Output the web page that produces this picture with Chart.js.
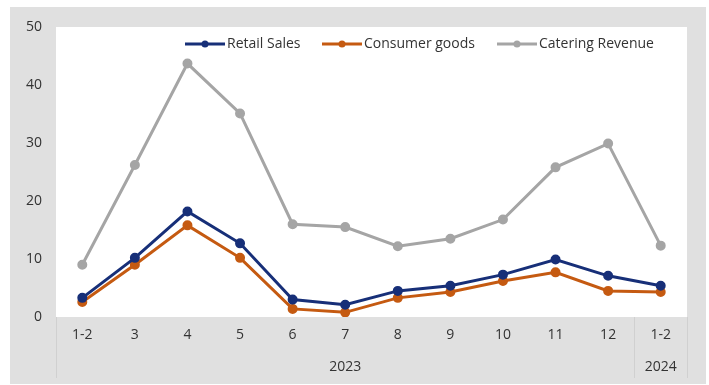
<!DOCTYPE html>
<html lang="en">
<head>
    <meta charset="UTF-8">
    <title>Retail Sales, Consumer goods, Catering Revenue</title>
    <style>
        body {
            margin: 0;
            padding: 0;
            background-color: #fff;
        }
        #wrap {
            width: 709px;
            height: 385px;
            position: relative;
        }
    </style>
</head>
<body>
    <div id="wrap"><canvas id="salesChart"></canvas></div>
    <script src="https://cdn.jsdelivr.net/npm/chart.js"></script>
    <script>
        const months = ['1-2', '3', '4', '5', '6', '7', '8', '9', '10', '11', '12', '1-2'];
        const years = ['2023', '2023', '2023', '2023', '2023', '2023', '2023', '2023', '2023', '2023', '2023', '2024'];
        const retailSales = [3.3, 10.2, 18.2, 12.7, 3.0, 2.1, 4.5, 5.4, 7.3, 9.9, 7.1, 5.4];
        const consumerGoods = [2.6, 9.0, 15.8, 10.2, 1.4, 0.8, 3.3, 4.3, 6.2, 7.7, 4.5, 4.3];
        const cateringRevenue = [9.0, 26.2, 43.7, 35.1, 16.0, 15.5, 12.2, 13.5, 16.8, 25.8, 29.9, 12.3];
        const yTicks = [0, 10, 20, 30, 40, 50];

        const textColor = '#333333';
        const fontFamily = "'Open Sans', 'Liberation Sans', Arial, sans-serif";
        const legendStarts = [185, 322, 497]; // left edge of each legend item

        // gray frame + white plot area
        const backdrop = {
            id: 'backdrop',
            beforeDraw(chart) {
                const { ctx, chartArea } = chart;
                ctx.save();
                ctx.fillStyle = '#ffffff';
                ctx.fillRect(0, 0, chart.width, chart.height);
                ctx.fillStyle = '#e0e0e0';
                ctx.fillRect(10, 7, 696, 377);
                ctx.fillStyle = '#ffffff';
                ctx.fillRect(chartArea.left, chartArea.top, chartArea.right - chartArea.left, chartArea.bottom - chartArea.top);
                ctx.restore();
            }
        };

        // year row under the month labels, with the separators
        const yearGroups = {
            id: 'yearGroups',
            afterDraw(chart) {
                const { ctx, chartArea } = chart;
                const x = chart.scales.x;
                const half = (x.getPixelForValue(1) - x.getPixelForValue(0)) / 2;
                ctx.save();
                ctx.strokeStyle = '#d0d0d0';
                ctx.lineWidth = 1;
                ctx.font = '14px ' + fontFamily;
                ctx.fillStyle = textColor;
                ctx.textAlign = 'center';
                ctx.textBaseline = 'middle';
                let start = 0;
                for (let i = 1; i <= years.length; i++) {
                    if (i === years.length || years[i] !== years[start]) {
                        const left = x.getPixelForValue(start) - half;
                        const right = x.getPixelForValue(i - 1) + half;
                        ctx.fillText(years[start], (left + right) / 2, 367);
                        start = i;
                    }
                }
                // separator lines
                const seps = [0];
                for (let i = 1; i < years.length; i++) {
                    if (years[i] !== years[i - 1]) seps.push(i);
                }
                seps.push(years.length);
                seps.forEach(i => {
                    const px = Math.round(x.getPixelForValue(i) - half) + 0.5;
                    ctx.beginPath();
                    ctx.moveTo(px, chartArea.bottom);
                    ctx.lineTo(px, 378);
                    ctx.stroke();
                });
                ctx.restore();
            }
        };

        // legend with line + dot markers inside the plot
        const lineLegend = {
            id: 'lineLegend',
            afterDraw(chart) {
                const { ctx } = chart;
                ctx.save();
                ctx.font = '14px ' + fontFamily;
                ctx.textBaseline = 'middle';
                ctx.textAlign = 'left';
                const y = 44;
                chart.data.datasets.forEach((ds, i) => {
                    const x = legendStarts[i];
                    ctx.strokeStyle = ds.borderColor;
                    ctx.lineWidth = 3;
                    ctx.beginPath();
                    ctx.moveTo(x, y);
                    ctx.lineTo(x + 40, y);
                    ctx.stroke();
                    ctx.fillStyle = ds.borderColor;
                    ctx.beginPath();
                    ctx.arc(x + 20, y, 3.5, 0, Math.PI * 2);
                    ctx.fill();
                    ctx.fillStyle = textColor;
                    ctx.fillText(ds.label, x + 42, y);
                });
                ctx.restore();
            }
        };

        function series(label, data, color) {
            return {
                label: label,
                data: data,
                borderColor: color,
                backgroundColor: color,
                borderWidth: 3,
                pointRadius: 3.5,
                pointHoverRadius: 3.5,
                pointBackgroundColor: color,
                pointBorderColor: color,
                tension: 0
            };
        }

        new Chart(document.getElementById('salesChart'), {
            type: 'line',
            data: {
                labels: months,
                datasets: [
                    series('Retail Sales', retailSales, '#172f78'),
                    series('Consumer goods', consumerGoods, '#c55a11'),
                    series('Catering Revenue', cateringRevenue, '#a5a5a5')
                ]
            },
            options: {
                responsive: true,
                maintainAspectRatio: false,
                animation: false,
                layout: { padding: { left: 10, right: 22, top: 27, bottom: 0 } },
                plugins: {
                    legend: { display: false },
                    tooltip: { enabled: false }
                },
                scales: {
                    x: {
                        offset: true,
                        grid: { display: false, drawTicks: false },
                        border: { display: false },
                        ticks: {
                            color: textColor,
                            font: { family: fontFamily, size: 14 },
                            padding: 10,
                            maxRotation: 0,
                            autoSkip: false
                        },
                        afterFit(scale) { scale.height = 68; }
                    },
                    y: {
                        min: 0,
                        max: 50,
                        grid: { display: false, drawTicks: false },
                        border: { display: false },
                        afterBuildTicks(scale) { scale.ticks = yTicks.map(v => ({ value: v })); },
                        ticks: {
                            color: textColor,
                            font: { family: fontFamily, size: 14 },
                            padding: 14
                        },
                        afterFit(scale) { scale.width = 46; }
                    }
                }
            },
            plugins: [backdrop, yearGroups, lineLegend]
        });
    </script>
</body>
</html>
